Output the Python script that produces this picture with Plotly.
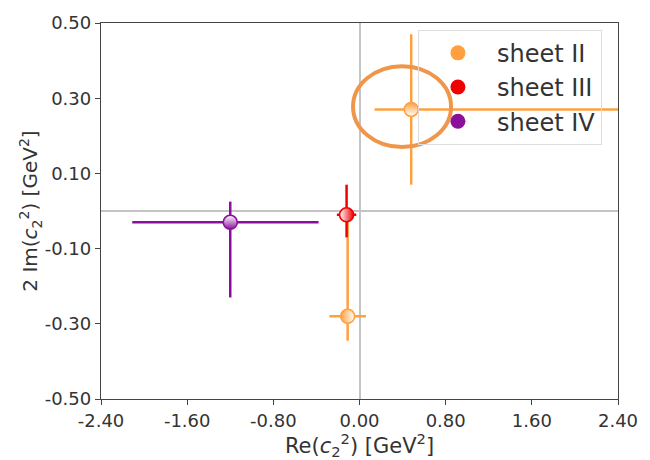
import plotly.graph_objects as go

# ---- data ----
series = ["sheet II", "sheet III", "sheet IV"]
colors = {"sheet II": "#ffa040", "sheet III": "#f00000", "sheet IV": "#8a109c"}

pt_series = ["sheet II", "sheet II", "sheet III", "sheet IV"]
re_vals = [0.48, -0.11, -0.12, -1.20]
im_vals = [0.27, -0.28, -0.01, -0.03]
re_err_plus = [3.00, 0.17, 0.09, 0.82]
re_err_minus = [0.34, 0.17, 0.09, 0.91]
im_err_plus = [0.20, 0.27, 0.08, 0.055]
im_err_minus = [0.20, 0.065, 0.06, 0.20]

x_ticks = [-2.40, -1.60, -0.80, 0.00, 0.80, 1.60, 2.40]
x_ticktext = ["-2.40", "-1.60", "-0.80", "0.00", "0.80", "1.60", "2.40"]
y_ticks = [-0.50, -0.30, -0.10, 0.10, 0.30, 0.50]
y_ticktext = ["-0.50", "-0.30", "-0.10", "0.10", "0.30", "0.50"]

# half-filled look per point
fill_dir = ["top", "left", "right", "bottom"]

FONT = "DejaVu Sans"
TXT = "#333333"

fig = go.Figure()

for i in range(len(re_vals)):
    c = colors[pt_series[i]]
    d = fill_dir[i]
    if d == "top":
        gtype, mcol, gcol = "vertical", c, "white"
    elif d == "bottom":
        gtype, mcol, gcol = "vertical", "white", c
    elif d == "left":
        gtype, mcol, gcol = "horizontal", c, "white"
    else:
        gtype, mcol, gcol = "horizontal", "white", c
    fig.add_trace(go.Scatter(
        x=[re_vals[i]], y=[im_vals[i]], mode="markers", showlegend=False,
        error_x=dict(type="data", symmetric=False, array=[re_err_plus[i]],
                     arrayminus=[re_err_minus[i]], color=c, thickness=2.5, width=0),
        error_y=dict(type="data", symmetric=False, array=[im_err_plus[i]],
                     arrayminus=[im_err_minus[i]], color=c, thickness=2.5, width=0),
        marker=dict(symbol="circle", size=14, color=mcol,
                    gradient=dict(type=gtype, color=gcol),
                    line=dict(color=c, width=1.6)),
    ))

for s in series:
    fig.add_trace(go.Scatter(
        x=[None], y=[None], mode="markers", name=s, legendgroup=s,
        marker=dict(symbol="circle", size=15, color=colors[s]),
    ))

# highlight ellipse around sheet II point
fig.add_shape(type="circle", xref="x", yref="y",
              x0=-0.06, x1=0.85, y0=0.170, y1=0.385,
              line=dict(color="#f0964a", width=4), layer="above")

axis_common = dict(
    showline=True, linecolor="#444444", linewidth=1.3, mirror=True,
    ticks="outside", ticklen=5, tickwidth=1.2, tickcolor="#444444",
    showgrid=False, zeroline=True, zerolinecolor="#c4c4c4", zerolinewidth=1.6,
    tickfont=dict(family=FONT, size=18, color=TXT),
)

fig.update_layout(
    width=650, height=460,
    margin=dict(l=101, r=32, t=18, b=57),
    paper_bgcolor="white", plot_bgcolor="white",
    xaxis=dict(range=[-2.4, 2.4], tickvals=x_ticks, ticktext=x_ticktext,
               title=dict(text="Re(<i>c</i><sub>2</sub><sup>2</sup>) [GeV<sup>2</sup>]",
                          font=dict(family=FONT, size=21, color=TXT), standoff=3),
               **axis_common),
    yaxis=dict(range=[-0.5, 0.5], tickvals=y_ticks, ticktext=y_ticktext,
               title=dict(text="2 Im(<i>c</i><sub>2</sub><sup>2</sup>) [GeV<sup>2</sup>]",
                          font=dict(family=FONT, size=20, color=TXT), standoff=0),
               **axis_common),
    legend=dict(x=0.613, y=0.982, xanchor="left", yanchor="top",
                bgcolor="rgba(255,255,255,0)", bordercolor="#dddddd", borderwidth=1,
                font=dict(family=FONT, size=24, color=TXT),
                tracegroupgap=0, itemwidth=68),
    showlegend=True,
)

fig.write_html("out.html")
